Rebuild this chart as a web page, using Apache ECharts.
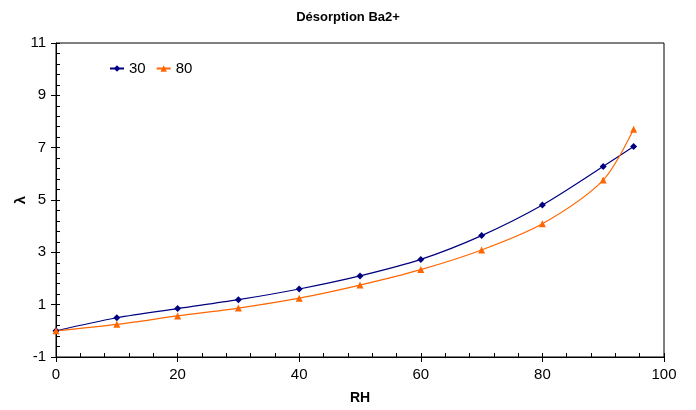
<!DOCTYPE html>
<html><head><meta charset="utf-8">
<script src="https://cdn.jsdelivr.net/npm/echarts@6/dist/echarts.min.js"></script>
<style>html,body{margin:0;padding:0;background:#fff}#c{width:696px;height:410px}</style>
</head><body><div id="c"></div>
<script>
const rh = [0, 10, 20, 30, 40, 50, 60, 70, 80, 90, 95];
const s30 = [0.0, 0.50, 0.85, 1.19, 1.60, 2.10, 2.73, 3.64, 4.81, 6.28, 7.04];
const s80 = [0.0, 0.25, 0.57, 0.87, 1.25, 1.75, 2.34, 3.09, 4.09, 5.76, 7.70];
const yTicks = [-1, 1, 3, 5, 7, 9, 11];
const xTicks = [0, 20, 40, 60, 80, 100];
const yMinor = [];
for (let i = 0; i <= 30; i++) yMinor.push(+(-1 + i * 0.4).toFixed(2));
const xMinor = [];
for (let i = 0; i <= 25; i++) xMinor.push(i * 4);

const font = 'Liberation Sans, Arial, sans-serif';
const chart = echarts.init(document.getElementById('c'), null, {renderer: 'canvas'});
chart.setOption({
  animation: false,
  backgroundColor: '#fff',
  title: {text: 'Désorption Ba2+', left: 'center', top: 6,
    textStyle: {fontFamily: font, fontSize: 13, fontWeight: 'bold', color: '#000'}},
  legend: {left: 104, top: 56, itemWidth: 14, itemHeight: 8, itemGap: 10,
    textStyle: {fontFamily: font, fontSize: 15, color: '#000'},
    data: ['30', '80']},
  grid: {left: 56, right: 32, top: 43, bottom: 53, show: true, borderColor: '#000', borderWidth: 1,
    outerBoundsMode: 'none', containLabel: false},
  xAxis: [{
    type: 'value', min: 0, max: 100, gridIndex: 0,
    name: 'RH', nameLocation: 'middle', nameGap: 34, nameMoveOverlap: false,
    nameTextStyle: {fontFamily: font, fontSize: 14, fontWeight: 'bold', color: '#000'},
    axisLine: {onZero: false, lineStyle: {color: '#000', width: 1}},
    axisTick: {show: true, length: 5, lineStyle: {color: '#000'}, customValues: xTicks},
    axisLabel: {fontFamily: font, fontSize: 15, color: '#000', margin: 10, customValues: xTicks},
    splitLine: {show: false}
  }, {
    type: 'value', min: 0, max: 100, gridIndex: 0, position: 'bottom',
    axisLine: {show: false, onZero: false},
    axisTick: {show: true, inside: true, length: 4, lineStyle: {color: '#000'}, customValues: xMinor},
    axisLabel: {show: false}, splitLine: {show: false}
  }],
  yAxis: [{
    type: 'value', min: -1, max: 11,
    name: 'λ', nameLocation: 'middle', nameGap: 28, nameMoveOverlap: false,
    nameTextStyle: {fontFamily: font, fontSize: 15, fontWeight: 'bold', color: '#000'},
    axisLine: {show: true, onZero: false, lineStyle: {color: '#000', width: 1}},
    axisTick: {show: true, length: 5, lineStyle: {color: '#000'}, customValues: yTicks},
    axisLabel: {fontFamily: font, fontSize: 15, color: '#000', margin: 10, customValues: yTicks},
    splitLine: {show: false}
  }, {
    type: 'value', min: -1, max: 11, position: 'left',
    axisLine: {show: false, onZero: false},
    axisTick: {show: true, inside: true, length: 4, lineStyle: {color: '#000'}, customValues: yMinor},
    axisLabel: {show: false}, splitLine: {show: false}
  }],
  series: [{
    name: '30', type: 'line', smooth: 0.3, symbol: 'diamond', symbolSize: 7,
    color: '#000080', lineStyle: {width: 1.2, color: '#000080'}, itemStyle: {color: '#000080'},
    data: rh.map((x, i) => [x, s30[i]])
  }, {
    name: '80', type: 'line', smooth: 0.3, symbol: 'triangle', symbolSize: 7,
    color: '#FF6600', lineStyle: {width: 1.2, color: '#FF6600'}, itemStyle: {color: '#FF6600'},
    data: rh.map((x, i) => [x, s80[i]])
  }]
});
</script></body></html>
